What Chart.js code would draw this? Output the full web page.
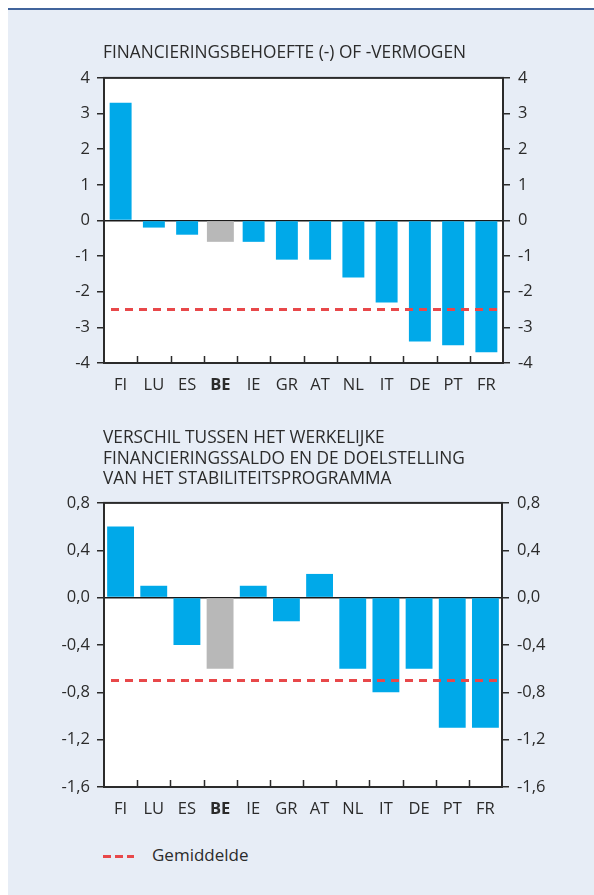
<!DOCTYPE html>
<html>
<head>
<meta charset="utf-8">
<script src="https://cdn.jsdelivr.net/npm/chart.js@4"></script>
<style>
  body { margin: 0; background: #fff; font-family: "Open Sans", sans-serif; color: #2b2b2b; }
  #panel { position: absolute; left: 8px; top: 8px; width: 586px; height: 887px; background: #e7edf6; border-top: 2px solid #41649c; }
  .title { position: absolute; left: 103px; font-size: 17.3px; line-height: 20.5px; color: #2b2b2b; z-index: 2; white-space: nowrap; }
  .wrap { position: absolute; left: 0; width: 594px; height: 330px; }
  #legend { position: absolute; left: 103px; top: 845px; height: 20px; font-size: 17px; line-height: 20px; }
  #legend .dash { display: inline-block; width: 31px; height: 3px; vertical-align: middle; margin-right: 18px;
    background: repeating-linear-gradient(90deg, #e8484a 0 8px, transparent 8px 12px); }
</style>
</head>
<body>
<div id="panel"></div>
<div class="title" style="top:42px">FINANCIERINGSBEHOEFTE (-) OF -VERMOGEN</div>
<div class="title" style="top:427px">VERSCHIL TUSSEN HET WERKELIJKE<br>FINANCIERINGSSALDO EN DE DOELSTELLING<br>VAN HET STABILITEITSPROGRAMMA</div>
<div class="wrap" style="top:60px"><canvas id="chart1"></canvas></div>
<div class="wrap" style="top:485px"><canvas id="chart2"></canvas></div>
<div id="legend"><span class="dash"></span>Gemiddelde</div>

<script>
const countries = ['FI', 'LU', 'ES', 'BE', 'IE', 'GR', 'AT', 'NL', 'IT', 'DE', 'PT', 'FR'];
const highlight = 'BE';

// financieringsbehoefte (-) of -vermogen
const balance = [3.3, -0.2, -0.4, -0.6, -0.6, -1.1, -1.1, -1.6, -2.3, -3.4, -3.5, -3.7];
const balanceAvg = -2.5;
const balanceTicks = [-4, -3, -2, -1, 0, 1, 2, 3, 4];

// verschil met doelstelling stabiliteitsprogramma
const gap = [0.6, 0.1, -0.4, -0.6, 0.1, -0.2, 0.2, -0.6, -0.8, -0.6, -1.1, -1.1];
const gapAvg = -0.7;
const gapTicks = [-1.6, -1.2, -0.8, -0.4, 0, 0.4, 0.8];

const BLUE = '#00a9e9';
const GREY = '#b8b8b8';
const RED = '#e8484a';
const INK = '#2b2b2b';
const FONT = 'Open Sans';

// white plot area, frame, inward x ticks and the dashed average line
const frame = {
  id: 'frame',
  beforeDraw(chart) {
    const a = chart.chartArea, c = chart.ctx;
    c.save();
    c.fillStyle = '#fff';
    c.fillRect(a.left, a.top, a.right - a.left, a.bottom - a.top);
    c.restore();
  },
  afterDatasetsDraw(chart, args, opts) {
    const a = chart.chartArea, c = chart.ctx;
    const py = chart.scales.y.getPixelForValue(opts.avg);
    c.save();
    c.strokeStyle = RED;
    c.lineWidth = 3;
    c.setLineDash([8, 6]);
    c.lineDashOffset = -4;
    c.beginPath();
    c.moveTo(a.left + 3, py);
    c.lineTo(a.right - 3, py);
    c.stroke();
    c.restore();
  },
  afterDraw(chart) {
    const a = chart.chartArea, c = chart.ctx, x = chart.scales.x;
    c.save();
    c.strokeStyle = INK;
    c.lineWidth = 1.5;
    c.beginPath();
    for (let i = 0; i < x.ticks.length - 1; i++) {
      const px = Math.round((x.getPixelForValue(i) + x.getPixelForValue(i + 1)) / 2) + 0.5;
      c.moveTo(px, a.bottom);
      c.lineTo(px, a.bottom - 7);
    }
    c.stroke();
    c.lineWidth = 2;
    c.strokeRect(a.left, a.top, a.right - a.left, a.bottom - a.top);
    c.restore();
  }
};

function fmt(v, dec) {
  return dec ? v.toFixed(dec).replace('.', ',') : String(v);
}

function makeChart(id, values, avg, ticks, dec, blueWidth, greyWidth, rightWidth, plotHeight) {
  const hi = countries.indexOf(highlight);
  const blueData = values.map((v, i) => i === hi ? null : v);
  const greyData = values.map((v, i) => i === hi ? v : null);
  const yAxis = (pos) => ({
    position: pos,
    min: ticks[0],
    max: ticks[ticks.length - 1],
    z: pos === 'left' ? 1 : 0,
    afterBuildTicks: s => { s.ticks = ticks.map(v => ({ value: v })); },
    afterFit: s => { s.width = pos === 'left' ? 104 : rightWidth; },
    border: { display: false },
    grid: {
      drawOnChartArea: pos === 'left',
      color: ctx => (ctx.tick && ctx.tick.value === 0) ? '#1a1a1a' : 'rgba(0,0,0,0)',
      lineWidth: 1.5,
      tickColor: INK,
      tickLength: 7
    },
    ticks: {
      padding: pos === 'left' ? 7 : 8,
      color: INK,
      font: { family: FONT, size: 16.5 },
      callback: v => fmt(v, dec)
    }
  });

  return new Chart(document.getElementById(id), {
    type: 'bar',
    data: {
      labels: countries,
      datasets: [
        { data: blueData, backgroundColor: BLUE, barPercentage: blueWidth, categoryPercentage: 1, grouped: false },
        { data: greyData, backgroundColor: GREY, barPercentage: greyWidth, categoryPercentage: 1, grouped: false }
      ]
    },
    options: {
      responsive: false,
      animation: false,
      layout: { padding: { top: 17, left: 0, right: 0, bottom: 0 } },
      plugins: { legend: { display: false }, tooltip: { enabled: false }, frame: { avg: avg } },
      scales: {
        x: {
          offset: true,
          afterFit: s => { s.height = 330 - 17 - plotHeight; },
          border: { display: false },
          grid: { display: false, drawTicks: false },
          ticks: {
            padding: 12,
            color: INK,
            font: ctx => ({ family: FONT, size: 16.5, weight: ctx.tick && ctx.tick.label === highlight ? 'bold' : 'normal' })
          }
        },
        y: yAxis('left'),
        y2: yAxis('right')
      }
    },
    plugins: [frame]
  });
}

document.getElementById('chart1').width = 594;
document.getElementById('chart1').height = 330;
document.getElementById('chart2').width = 594;
document.getElementById('chart2').height = 330;

makeChart('chart1', balance, balanceAvg, balanceTicks, 0, 0.66, 0.81, 91, 286);
makeChart('chart2', gap, gapAvg, gapTicks, 1, 0.81, 0.81, 92, 285);
</script>
</body>
</html>
